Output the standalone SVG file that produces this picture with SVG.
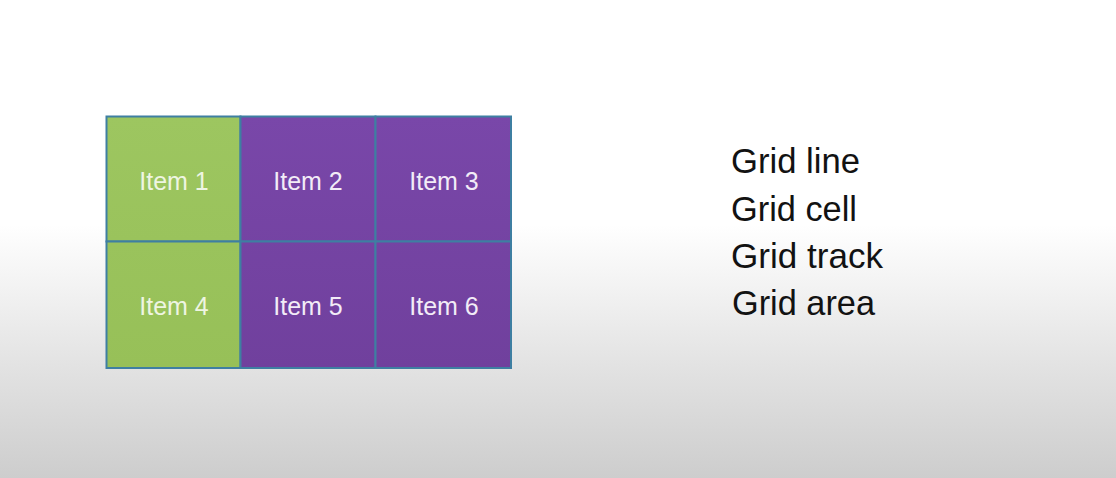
<svg xmlns="http://www.w3.org/2000/svg" width="1116" height="478" viewBox="0 0 1116 478">
  <defs>
    <linearGradient id="bg" x1="0" y1="0" x2="0" y2="1">
      <stop offset="0" stop-color="#ffffff"/>
      <stop offset="0.47" stop-color="#ffffff"/>
      <stop offset="0.75" stop-color="#e4e4e4"/>
      <stop offset="1" stop-color="#cdcdcd"/>
    </linearGradient>
    <linearGradient id="purple" gradientUnits="userSpaceOnUse" x1="0" y1="116" x2="0" y2="368">
      <stop offset="0" stop-color="#7947a9"/>
      <stop offset="1" stop-color="#70409d"/>
    </linearGradient>
    <linearGradient id="green" gradientUnits="userSpaceOnUse" x1="0" y1="116" x2="0" y2="368">
      <stop offset="0" stop-color="#9dc660"/>
      <stop offset="1" stop-color="#97c058"/>
    </linearGradient>
  </defs>
  <style>
    .cell { stroke: #3e7fa2; stroke-width: 2; }
    .g { fill: url(#green); }
    .p { fill: url(#purple); }
    .lbl { font-family: "Liberation Sans", Arial, sans-serif; font-size: 25px; text-anchor: middle; }
    .lg { fill: #eef5e2; }
    .lp { fill: #f2ecf7; }
    .term { font-family: "Liberation Sans", Arial, sans-serif; font-size: 34.5px; fill: #121212; }
  </style>
  <rect x="0" y="0" width="1116" height="478" fill="url(#bg)"/>

  <g id="grid">
    <g id="item1">
      <rect class="cell g" x="106.5" y="116.5" width="134" height="125"/>
      <text class="lbl lg" x="174" y="190">Item 1</text>
    </g>
    <g id="item2">
      <rect class="cell p" x="240.5" y="116.5" width="135" height="125"/>
      <text class="lbl lp" x="308" y="190">Item 2</text>
    </g>
    <g id="item3">
      <rect class="cell p" x="375.5" y="116.5" width="135.5" height="125"/>
      <text class="lbl lp" x="444" y="190">Item 3</text>
    </g>
    <g id="item4">
      <rect class="cell g" x="106.5" y="241.5" width="134" height="126.5"/>
      <text class="lbl lg" x="174" y="315">Item 4</text>
    </g>
    <g id="item5">
      <rect class="cell p" x="240.5" y="241.5" width="135" height="126.5"/>
      <text class="lbl lp" x="308" y="315">Item 5</text>
    </g>
    <g id="item6">
      <rect class="cell p" x="375.5" y="241.5" width="135.5" height="126.5"/>
      <text class="lbl lp" x="444" y="315">Item 6</text>
    </g>
  </g>

  <g id="connectors"></g>

  <g id="terms">
    <text class="term" x="731" y="173" textLength="129" lengthAdjust="spacingAndGlyphs">Grid line</text>
    <text class="term" x="731" y="221" textLength="126" lengthAdjust="spacingAndGlyphs">Grid cell</text>
    <text class="term" x="731" y="268" textLength="152" lengthAdjust="spacingAndGlyphs">Grid track</text>
    <text class="term" x="732" y="315" textLength="143" lengthAdjust="spacingAndGlyphs">Grid area</text>
  </g>
</svg>
